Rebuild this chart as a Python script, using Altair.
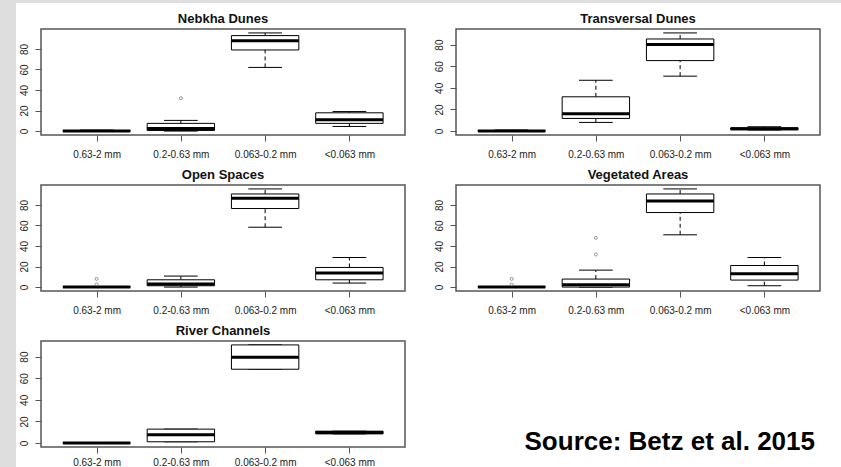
import json
import altair as alt
import pandas as pd

FONT = "Liberation Sans"
GREY_BG = "#dedede"

CATEGORIES = ["0.63-2 mm", "0.2-0.63 mm", "0.063-0.2 mm", "<0.063 mm"]
Y_TICKS = [0, 20, 40, 60, 80]
SOURCE = "Source: Betz et al. 2015"

# [lower whisker, Q1, median, Q3, upper whisker] for each grain-size class
NEBKHA_STATS = [[0.0, 0.0, 0.0, 0.5, 1.0],
                [0.0, 0.6, 2.6, 7.5, 10.4],
                [62.0, 79.0, 88.0, 93.0, 95.6],
                [4.5, 7.5, 11.0, 17.8, 19.0]]
NEBKHA_OUTLIERS = [[2, 32.0]]  # [class position, value]

TRANSVERSAL_STATS = [[0.0, 0.0, 0.0, 0.5, 1.0],
                     [8.0, 11.7, 16.0, 31.7, 47.0],
                     [50.8, 65.2, 80.0, 85.2, 90.8],
                     [1.0, 1.2, 2.2, 3.0, 4.0]]
TRANSVERSAL_OUTLIERS = []

OPEN_STATS = [[0.0, 0.0, 0.0, 0.3, 0.5],
              [0.0, 1.3, 2.9, 7.1, 10.7],
              [58.3, 76.5, 86.5, 90.7, 95.6],
              [3.9, 7.1, 13.6, 19.1, 28.8]]
OPEN_OUTLIERS = [[1, 2.6], [1, 8.0]]

VEGETATED_STATS = [[0.0, 0.0, 0.0, 0.3, 0.5],
                   [0.0, 0.0, 2.3, 7.8, 16.5],
                   [50.9, 72.6, 83.9, 90.7, 95.6],
                   [1.3, 6.8, 13.0, 21.0, 28.8]]
VEGETATED_OUTLIERS = [[1, 2.4], [1, 8.0], [2, 31.7], [2, 48.0]]

RIVER_STATS = [[0.0, 0.0, 0.0, 0.3, 0.3],
               [1.2, 1.2, 7.7, 12.9, 12.9],
               [68.3, 68.3, 79.4, 90.8, 90.8],
               [8.5, 8.5, 9.8, 11.0, 11.0]]
RIVER_OUTLIERS = []

PANEL_W, PANEL_H = 364, 106


def panel(title, stats, outliers, bottom=False):
    n = len(CATEGORIES)
    box = pd.DataFrame(stats, columns=["lo", "q1", "med", "q3", "hi"])
    box["pos"] = list(range(1, n + 1))
    out = pd.DataFrame(outliers, columns=["pos", "value"])
    vals = [v for s in stats for v in s] + [o[1] for o in outliers]
    vmin, vmax = min(vals), max(vals)
    pad = 0.04 * (vmax - vmin)
    yscale = alt.Scale(domain=[vmin - pad, vmax + pad], nice=False, zero=False)
    xscale = alt.Scale(domain=[0.5 - 0.04 * n, n + 0.5 + 0.04 * n], nice=False, zero=False)
    xaxis = alt.Axis(values=list(range(1, n + 1)), title=None,
                     labelExpr=json.dumps(CATEGORIES) + "[datum.value - 1]",
                     labelPadding=4 if bottom else 8)
    yaxis = alt.Axis(values=Y_TICKS, title=None, labelAngle=-90,
                     labelAlign="center", labelBaseline="bottom", labelPadding=6)

    def X(f):
        return alt.X(f, type="quantitative", scale=xscale, axis=xaxis)

    def Y(f):
        return alt.Y(f, type="quantitative", scale=yscale, axis=yaxis)

    base = alt.Chart(box).transform_calculate(
        bl="datum.pos - 0.4", br="datum.pos + 0.4",
        cl="datum.pos - 0.2", cr="datum.pos + 0.2")
    w_lo = base.mark_rule(color="black", strokeWidth=1, strokeDash=[4, 3]).encode(
        x=X("pos"), y=Y("lo"), y2="q1:Q")
    w_hi = base.mark_rule(color="black", strokeWidth=1, strokeDash=[4, 3]).encode(
        x=X("pos"), y=Y("q3"), y2="hi:Q")
    c_lo = base.mark_rule(color="black", strokeWidth=1).encode(
        x=X("cl"), x2="cr:Q", y=Y("lo"))
    c_hi = base.mark_rule(color="black", strokeWidth=1).encode(
        x=X("cl"), x2="cr:Q", y=Y("hi"))
    rect = base.mark_rect(fill="white", stroke="black", strokeWidth=1).encode(
        x=X("bl"), x2="br:Q", y=Y("q1"), y2="q3:Q")
    med = base.mark_rule(color="black", strokeWidth=3).encode(
        x=X("bl"), x2="br:Q", y=Y("med"))
    pts = alt.Chart(out).mark_point(shape="circle", filled=False, size=9,
                                    color="#666", strokeWidth=1).encode(
        x=X("pos"), y=Y("value"))
    return alt.layer(w_lo, w_hi, c_lo, c_hi, rect, med, pts).properties(
        width=PANEL_W, height=PANEL_H,
        title=alt.TitleParams(title, fontSize=13, fontWeight="bold", font=FONT,
                              color="#111", offset=3),
        view=alt.ViewBackground(fill="white", stroke="#555", strokeWidth=1.5))


p1 = panel("Nebkha Dunes", NEBKHA_STATS, NEBKHA_OUTLIERS)
p2 = panel("Transversal Dunes", TRANSVERSAL_STATS, TRANSVERSAL_OUTLIERS)
p3 = panel("Open Spaces", OPEN_STATS, OPEN_OUTLIERS)
p4 = panel("Vegetated Areas", VEGETATED_STATS, VEGETATED_OUTLIERS)
p5 = panel("River Channels", RIVER_STATS, RIVER_OUTLIERS, bottom=True)

src = alt.Chart(pd.DataFrame({"t": [SOURCE]})).mark_text(
    font=FONT, fontSize=26, fontWeight="bold", color="black",
    align="right", baseline="alphabetic").encode(
    text="t:N", x=alt.value(359), y=alt.value(109)).properties(
    width=PANEL_W, height=PANEL_H,
    view=alt.ViewBackground(fill="white", strokeWidth=0))

grid = alt.concat(p1, p2, p3, p4, p5, src, columns=2,
                  spacing=alt.RowColnumber(row=50, column=51), bounds="flush")

# decorative grey page border (slide background) on the left and top
strip_df = pd.DataFrame({"k": [0]})
left_strip = alt.Chart(strip_df).mark_rect(color=GREY_BG).encode(
    x=alt.value(0), x2=alt.value(16), y=alt.value(0), y2=alt.value(467)
).properties(width=16, height=467,
             view=alt.ViewBackground(fill="white", strokeWidth=0))

top_strip = alt.Chart(strip_df).mark_rect(color=GREY_BG).encode(
    x=alt.value(-25), x2=alt.value(800), y=alt.value(0), y2=alt.value(3)
).properties(width=779, height=3,
             view=alt.ViewBackground(fill="white", strokeWidth=0))

inner = alt.vconcat(top_strip, grid, spacing=9)

chart = alt.hconcat(left_strip, inner, spacing=0).properties(
    padding=0, background="white"
).configure(font=FONT).configure_axis(
    domain=False, grid=False, tickSize=6, tickColor="#555", tickWidth=1,
    labelFont=FONT, labelFontSize=10, labelColor="#222"
)

chart.save("out.html", embed_options={"renderer": "svg", "actions": False})
